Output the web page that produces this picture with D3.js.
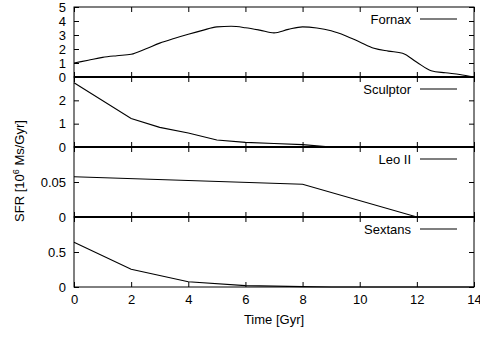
<!DOCTYPE html>
<html><head><meta charset="utf-8">
<script src="https://cdn.jsdelivr.net/npm/d3@7"></script>
<style>body{margin:0;background:#fff}svg{display:block}text{font-family:"Liberation Sans",Arial,sans-serif;font-size:13px;fill:#000}</style>
</head><body><svg id="c" width="480" height="338"></svg>
<script>
// Data
const xTicks = [0,2,4,6,8,10,12,14];
const fornaxT = [0,0.5,1,1.5,2,2.5,3,3.5,4,4.5,5,5.5,6,6.5,7,7.5,8,8.5,9,9.5,10,10.5,11,11.5,12,12.5,13,13.5,14];
const fornaxV = [1.0,1.2,1.4,1.52,1.62,2.0,2.42,2.75,3.05,3.33,3.58,3.62,3.52,3.35,3.15,3.4,3.58,3.5,3.3,2.95,2.5,2.05,1.85,1.7,1.05,0.45,0.3,0.18,0.0];
const sculptorT = [0,2,3,4,5,6,7,8,9,14];
const sculptorV = [2.75,1.22,0.84,0.6,0.3,0.2,0.15,0.1,0.0,0.0];
const leoT = [0,8,12,12.5,14];
const leoV = [0.0576,0.0467,0.0,0.0,0.0];
const sextansT = [0,2,4,6,8,9,14];
const sextansV = [0.638,0.253,0.076,0.02,0.005,0.0,0.0];
const names = ["Fornax","Sculptor","Leo II","Sextans"];
const yMax = [5,3,0.1,1];
const yTicksList = [[0,1,2,3,4,5],[0,1,2],[0,0.05],[0,0.5]];
const yTickFmt = [d3.format("d"), d3.format("d"), v => v===0?"0":d3.format(".2f")(v), v => v===0?"0":String(v)];

const series = [[fornaxT,fornaxV],[sculptorT,sculptorV],[leoT,leoV],[sextansT,sextansV]];

const svg = d3.select("#c");
const L=74, R=474, T=7, H=70;
const x = d3.scaleLinear().domain([0,14]).range([L,R]);

series.forEach((s,i)=>{
  const top = T + i*H, bot = top + H;
  const y = d3.scaleLinear().domain([0,yMax[i]]).range([bot,top]);
  const g = svg.append("g");
  // left axis
  const ya = g.append("g").attr("transform",`translate(${L},0)`)
    .call(d3.axisLeft(y).tickValues(yTicksList[i]).tickFormat(yTickFmt[i]).tickSize(-5).tickSizeOuter(0).tickPadding(8));
  ya.select(".domain").remove();
  ya.selectAll("line").attr("stroke","#000");
  ya.selectAll("text").attr("font-size",null).attr("font-family",null);
  // right axis
  const yr = g.append("g").attr("transform",`translate(${R},0)`)
    .call(d3.axisRight(y).tickValues(yTicksList[i]).tickFormat("").tickSize(-5).tickSizeOuter(0));
  yr.select(".domain").remove();
  // top x ticks
  const xt = g.append("g").attr("transform",`translate(0,${top})`)
    .call(d3.axisTop(x).tickValues(xTicks).tickFormat("").tickSize(-5).tickSizeOuter(0));
  xt.select(".domain").remove();
  const xb = g.append("g").attr("transform",`translate(0,${bot})`)
    .call(d3.axisBottom(x).tickValues(xTicks).tickFormat(i===3? d3.format("d") : "").tickSize(-5).tickSizeOuter(0).tickPadding(8));
  xb.select(".domain").remove();
  xb.selectAll("text").attr("font-size",null).attr("font-family",null);
  svg.selectAll(".tick line").attr("stroke","#000");
  // frame
  g.append("rect").attr("x",L).attr("y",top).attr("width",R-L).attr("height",H)
    .attr("fill","none").attr("stroke","#000").attr("stroke-width",1);
  // data
  const pts = s[0].map((t,k)=>[t,s[1][k]]);
  const line = d3.line().x(d=>x(d[0])).y(d=>y(d[1])).curve(i===0?d3.curveMonotoneX:d3.curveLinear);
  g.append("path").datum(pts).attr("d",line).attr("fill","none").attr("stroke","#000").attr("stroke-width",1.1);
  // legend
  const ly = top + 12;
  g.append("text").attr("x",411).attr("y",ly).attr("dy","0.35em").attr("text-anchor","end").text(names[i]);
  g.append("line").attr("x1",420).attr("x2",457).attr("y1",ly).attr("y2",ly).attr("stroke","#000").attr("stroke-width",1.1);
});
// thicker panel boundaries
[1,2,3].forEach(i=>{
  svg.append("line").attr("x1",L).attr("x2",R).attr("y1",T+i*H).attr("y2",T+i*H).attr("stroke","#000").attr("stroke-width",2);
});
// labels
svg.append("text").attr("x",274).attr("y",324).attr("text-anchor","middle").text("Time [Gyr]");
const yl = svg.append("text").attr("transform","translate(24,171) rotate(-90)").attr("text-anchor","middle");
yl.append("tspan").text("SFR [10");
yl.append("tspan").attr("dy",-5).attr("font-size","9px").text("6");
yl.append("tspan").attr("dy",5).text(" Ms/Gyr]");
</script></body></html>
